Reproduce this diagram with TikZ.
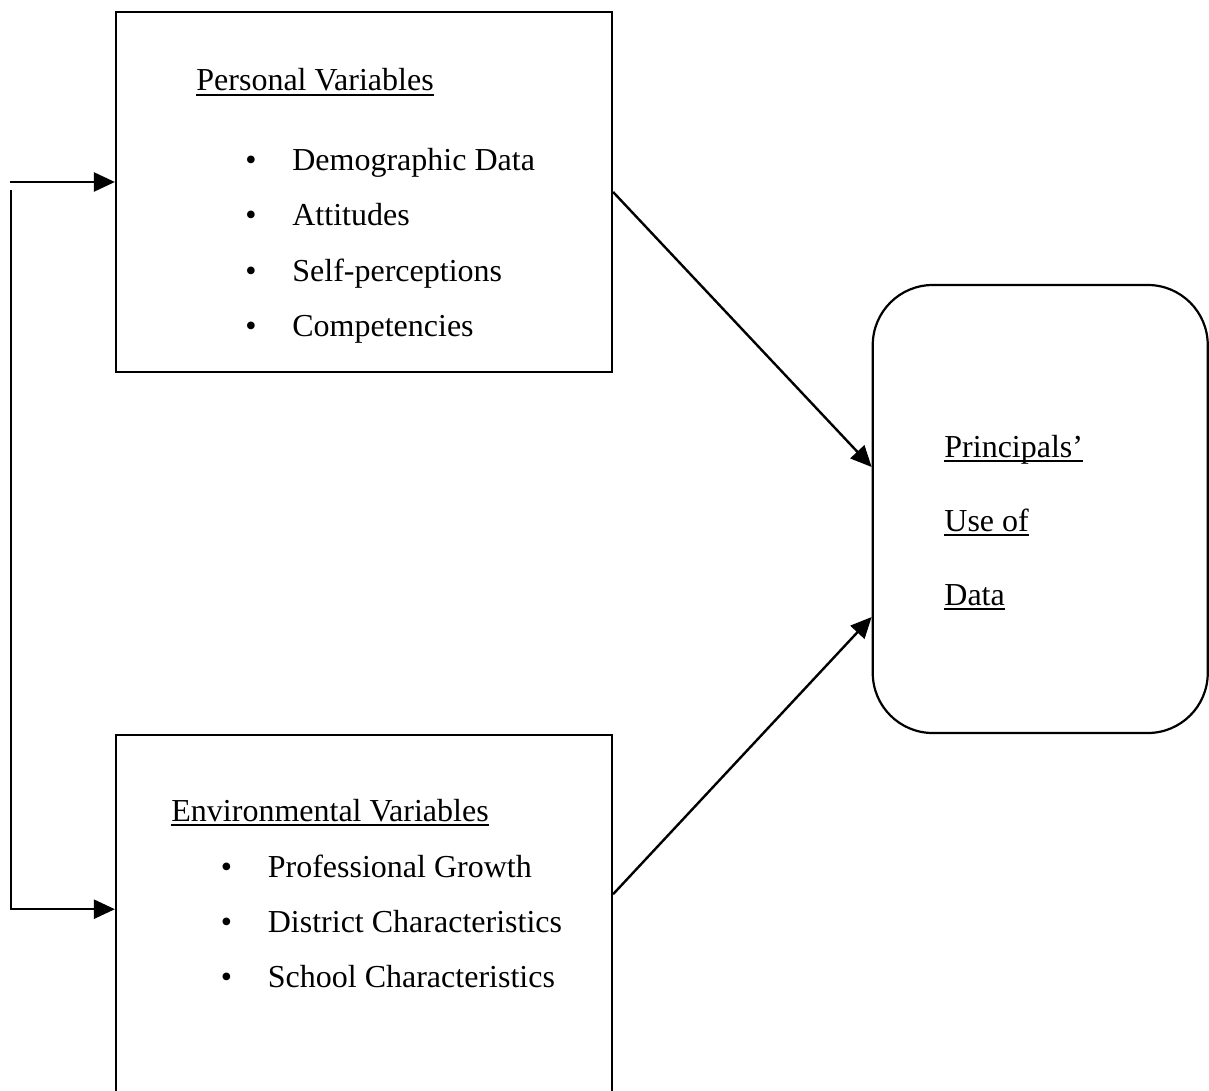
\documentclass[tikz,border=0pt]{standalone}
\usepackage{fontspec}
\setmainfont{Liberation Serif}
\usetikzlibrary{arrows.meta,positioning}
\newcommand{\ulhead}[1]{\setbox0\hbox{#1}\rlap{\rule[-2.6pt]{\wd0}{1.1pt}}#1}
\newcommand{\bul}{\makebox[23.5pt][l]{\textbullet}}

\begin{document}
\begin{tikzpicture}[x=0.5pt,y=0.5pt,
    bx/.style={draw,line width=1.1pt,inner sep=0pt,minimum width=248pt},
    rbx/.style={draw,line width=1.1pt,rounded corners=30pt,inner sep=0pt,minimum width=167.5pt,minimum height=224pt},
    a/.style={-{Triangle[length=10.5pt,width=9.5pt]},line width=1.2pt},
    hd/.style={anchor=base west,inner sep=0pt,font=\fontsize{16}{19}\selectfont}]
    \useasboundingbox (0,0) rectangle (1209,-1091);
    \clip (0,0) rectangle (1209,-1091);
    \node[bx,minimum height=180pt] (pv) at (364,-192) {};
    \node[bx,minimum height=189pt,below=180.5pt of pv] (ev) {};
    \node[rbx] (ud) at (1040.25,-509) {};
    \node[hd] (pvh) at (196,-91) {\ulhead{Personal Variables}};
    \node[hd] (pv1) at (245,-171) {\bul Demographic Data};
    \node[hd] (pv2) at (245,-226) {\bul Attitudes};
    \node[hd] (pv3) at (245,-281) {\bul Self-perceptions};
    \node[hd] (pv4) at (245,-336) {\bul Competencies};
    \node[hd] (evh) at (171,-821) {\ulhead{Environmental Variables}};
    \node[hd] (ev1) at (220.5,-877) {\bul Professional Growth};
    \node[hd] (ev2) at (220.5,-932) {\bul District Characteristics};
    \node[hd] (ev3) at (220.5,-987) {\bul School Characteristics};
    \node[hd] (ud1) at (944,-457) {\ulhead{Principals’}};
    \node[hd] (ud2) at (944,-531) {\ulhead{Use of}};
    \node[hd] (ud3) at (944,-605) {\ulhead{Data}};
    \coordinate (fb1) at (10,-182);
    \coordinate (fb2) at (11,-190);
    \draw[a] (fb1) -- (fb1 -| pv.west);
    \draw[a] (fb2) |- ([yshift=7.5pt]ev.west);
    \draw[a] (pv.east) -- ([yshift=21pt]ud.west);
    \draw[a] ([yshift=15pt]ev.east) -- ([yshift=-54pt]ud.west);
  \end{tikzpicture}
\end{document}
